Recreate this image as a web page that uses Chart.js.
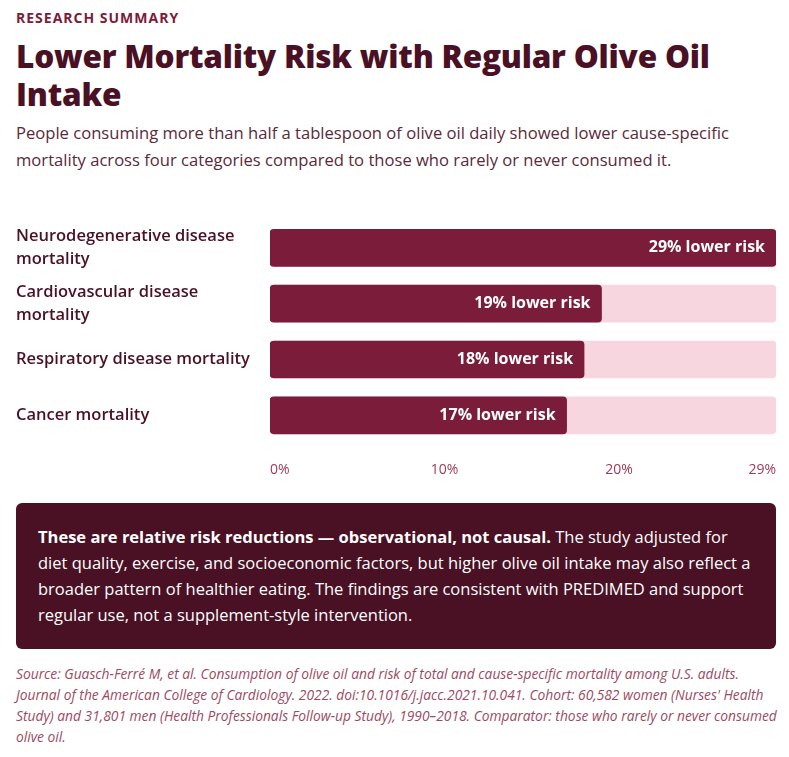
<!DOCTYPE html>
<html>
<head>
<meta charset="utf-8">
<script src="https://cdn.jsdelivr.net/npm/chart.js@4"></script>
<style>
  body { margin: 0; background: #fff; font-family: "Open Sans", sans-serif; color: #4a1024; }
  .wrap { padding: 8px 13px 0 16px; }
  .kicker { font-size: 14px; font-weight: 700; letter-spacing: 1px; color: #7b1c3a; margin: 0; }
  h1 { font-family: "Open Sans", sans-serif; font-weight: 800; font-size: 31.5px; line-height: 38px; margin: 10px 0 6px; color: #4a1024; letter-spacing: -0.2px; }
  .sub { font-size: 16.6px; line-height: 27px; color: #5a2a3a; margin: 0; }
  .chart { position: relative; height: 268px; margin-top: 47px; }
  .note { background: #4a1024; color: #fff; border-radius: 6px; padding: 21px 22px 21px 22px; font-size: 16.5px; line-height: 26px; margin-top: 15px; }
  .note b { font-weight: 700; }
  .src { font-size: 13.8px; font-style: italic; color: #9b4a62; line-height: 21px; margin-top: 14px; margin-right: -8px; }
</style>
</head>
<body>
<div class="wrap">
  <p class="kicker">RESEARCH SUMMARY</p>
  <h1>Lower Mortality Risk with Regular Olive Oil Intake</h1>
  <p class="sub">People consuming more than half a tablespoon of olive oil daily showed lower cause-specific mortality across four categories compared to those who rarely or never consumed it.</p>
  <div class="chart"><canvas id="c"></canvas></div>
  <div class="note"><b>These are relative risk reductions — observational, not causal.</b> The study adjusted for diet quality, exercise, and socioeconomic factors, but higher olive oil intake may also reflect a broader pattern of healthier eating. The findings are consistent with PREDIMED and support regular use, not a supplement-style intervention.</div>
  <div class="src">Source: Guasch-Ferré M, et al. Consumption of olive oil and risk of total and cause-specific mortality among U.S. adults. Journal of the American College of Cardiology. 2022. doi:10.1016/j.jacc.2021.10.041. Cohort: 60,582 women (Nurses' Health Study) and 31,801 men (Health Professionals Follow-up Study), 1990–2018. Comparator: those who rarely or never consumed olive oil.</div>
</div>
<script>
const categories = [
  ["Neurodegenerative disease", "mortality"],
  ["Cardiovascular disease", "mortality"],
  "Respiratory disease mortality",
  "Cancer mortality"
];
const riskReduction = [29, 19, 18, 17];
const axisMax = 29;
const tickValues = [0, 10, 20, 29];

const barLabels = {
  id: "barLabels",
  afterDatasetsDraw(chart) {
    const ctx = chart.ctx;
    const meta = chart.getDatasetMeta(0);
    ctx.save();
    ctx.font = "bold 16px 'Open Sans', sans-serif";
    ctx.fillStyle = "#fff";
    ctx.textAlign = "right";
    ctx.textBaseline = "middle";
    meta.data.forEach((bar, i) => {
      ctx.fillText(riskReduction[i] + "% lower risk", bar.x - 11, bar.y);
    });
    ctx.restore();
  }
};

new Chart(document.getElementById("c"), {
  type: "bar",
  data: {
    labels: categories,
    datasets: [
      { data: riskReduction, backgroundColor: "#7b1c3a", borderRadius: 4, borderSkipped: false, barThickness: 37, grouped: false, order: 1 },
      { data: riskReduction.map(() => axisMax), backgroundColor: "#f7d6df", borderRadius: 4, borderSkipped: false, barThickness: 37, grouped: false, order: 2 }
    ]
  },
  options: {
    indexAxis: "y",
    responsive: true,
    maintainAspectRatio: false,
    animation: false,
    layout: { padding: 0 },
    plugins: { legend: { display: false }, tooltip: { enabled: false } },
    scales: {
      x: {
        min: 0, max: axisMax,
        grid: { display: false },
        border: { display: false },
        afterBuildTicks: (axis) => { axis.ticks = tickValues.map((v) => ({ value: v })); },
        afterFit: (axis) => { axis.paddingLeft = 0; axis.paddingRight = 0; },
        ticks: { callback: (v) => v + "%", align: "inner", color: "#9b3a55", font: { size: 14, family: "Open Sans" }, padding: 10, maxRotation: 0 }
      },
      y: {
        grid: { display: false },
        border: { display: false },
        afterFit: (axis) => { axis.width = 254; axis.paddingTop = 0; axis.paddingBottom = 0; },
        ticks: { autoSkip: false, crossAlign: "far", color: "#4a1024", font: { size: 16.5, weight: "600", family: "Open Sans", lineHeight: 1.4 }, padding: 16 }
      }
    }
  },
  plugins: [barLabels]
});
</script>
</body>
</html>
